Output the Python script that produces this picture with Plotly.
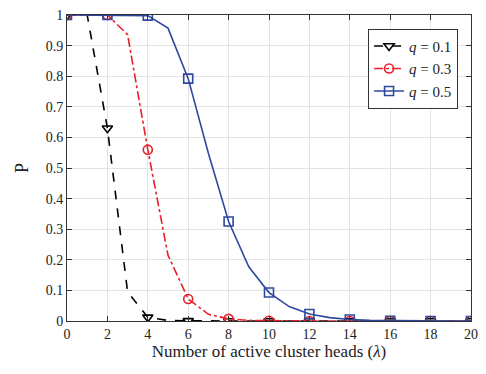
import plotly.graph_objects as go

lam = list(range(0, 21))
p_q01 = [1, 1, 0.63, 0.095, 0.012, 0.002, 0.0003, 0, 0, 0, 0, 0, 0, 0, 0, 0, 0, 0, 0, 0, 0]
p_q03 = [1, 1, 1, 0.936, 0.56, 0.215, 0.072, 0.022, 0.007, 0.002, 0.0008, 0.0003, 0.0001, 0, 0, 0, 0, 0, 0, 0, 0]
p_q05 = [1, 1, 1, 0.999, 0.998, 0.957, 0.792, 0.548, 0.325, 0.177, 0.093, 0.047, 0.023, 0.011, 0.005, 0.002, 0.001, 0.0004, 0.0002, 0.0001, 0.0]
names = ["<i>q</i> = 0.1", "<i>q</i> = 0.3", "<i>q</i> = 0.5"]
x_ticks = list(range(0, 21, 2))
y_ticks = [round(0.1 * i, 1) for i in range(11)]

series = [
    (p_q01, names[0], "black", "dash", "triangle-down-open"),
    (p_q03, names[1], "#e8202a", "dashdot", "circle-open"),
    (p_q05, names[2], "#2e48a0", "solid", "square-open"),
]

fig = go.Figure()
for i, (vals, name, color, dash, sym) in enumerate(series):
    line = dict(color=color, dash=dash, width=1.6)
    marker = dict(symbol=sym, size=9, color=color, line=dict(width=1.6, color=color))
    fig.add_trace(go.Scatter(x=lam, y=vals, mode="lines", line=line,
                             showlegend=False, legendgroup=str(i), hoverinfo="skip"))
    ex = [x for x in lam if x % 2 == 0]
    ey = [vals[x] for x in ex]
    fig.add_trace(go.Scatter(x=ex, y=ey, mode="markers", marker=marker,
                             showlegend=False, legendgroup=str(i), name=name))
    fig.add_trace(go.Scatter(x=[None], y=[None], mode="lines+markers", name=name,
                             line=line, marker=marker, legendgroup=str(i)))

font_family = "Liberation Serif, serif"
axis_common = dict(
    showline=True, linecolor="#333", linewidth=1, mirror="ticks",
    ticks="inside", ticklen=5, tickcolor="#333",
    showgrid=True, gridcolor="#e3e3e3", gridwidth=1,
    zeroline=False, tickfont=dict(family=font_family, size=14, color="#222"),
)
fig.update_xaxes(range=[0, 20], tickvals=x_ticks,
                 title=dict(text="Number of active cluster heads (<i>λ</i>)",
                            font=dict(family=font_family, size=17, color="#222"), standoff=4),
                 **axis_common)
fig.update_yaxes(range=[0, 1], tickvals=y_ticks,
                 ticktext=[str(int(v)) if v in (0, 1) else str(v) for v in y_ticks],
                 title=dict(text="P", font=dict(family=font_family, size=18, color="#222"), standoff=12),
                 **axis_common)
fig.update_layout(
    width=486, height=374,
    margin=dict(l=67, r=13, t=8, b=53),
    plot_bgcolor="white", paper_bgcolor="white",
    legend=dict(x=0.968, y=0.955, xanchor="right", yanchor="top",
                bgcolor="white", bordercolor="#333", borderwidth=1,
                font=dict(family=font_family, size=15, color="#222"),
                tracegroupgap=0),
    showlegend=True,
)
fig.write_html("out.html", config={"displayModeBar": False},
               post_script="document.body.style.margin='0';")
